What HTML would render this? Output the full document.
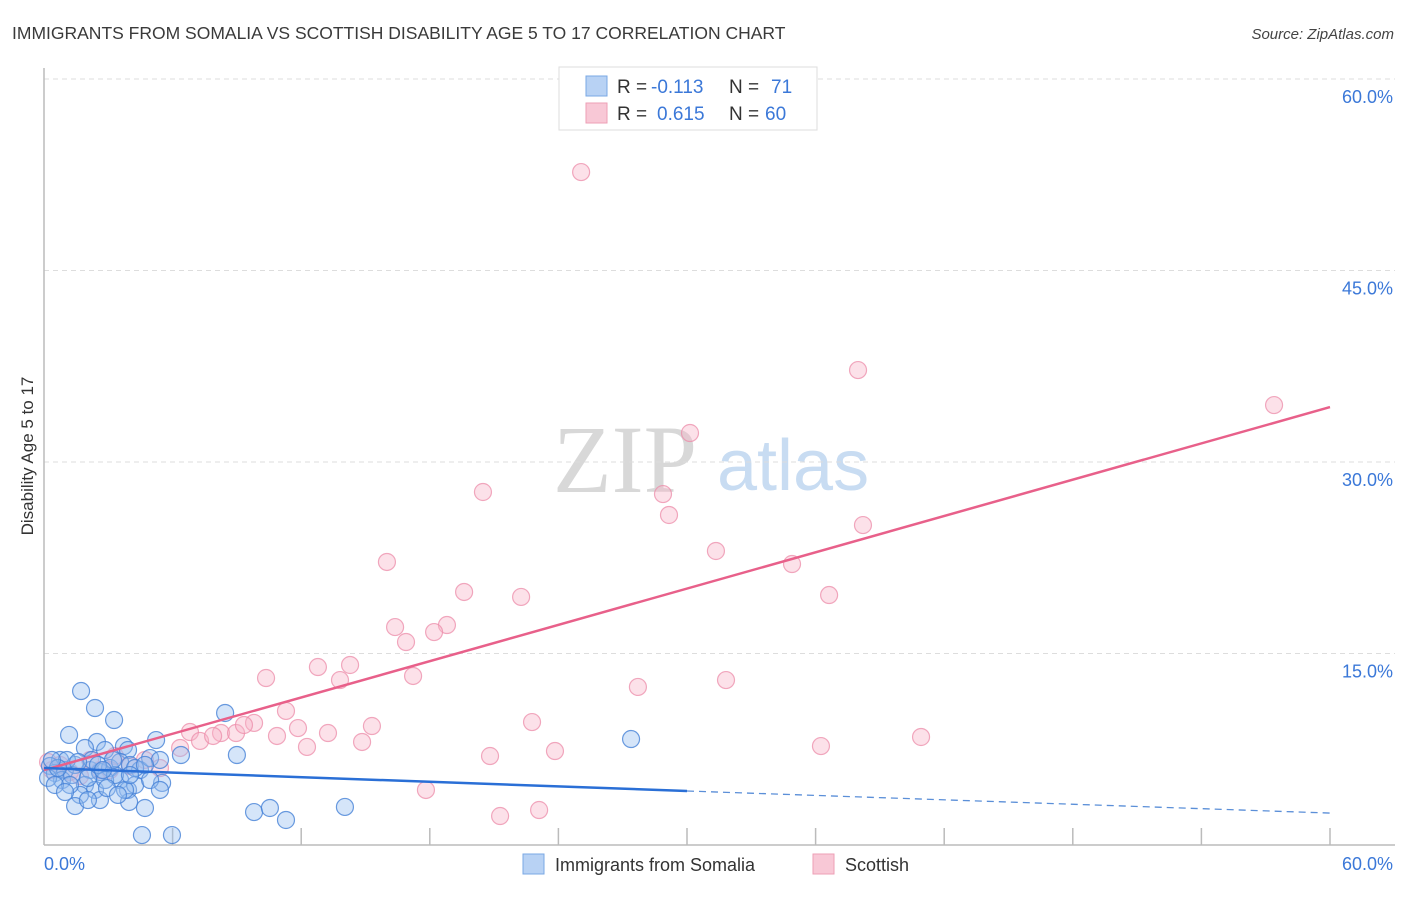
<!DOCTYPE html>
<html><head><meta charset="utf-8">
<style>
body{margin:0;background:#fff;font-family:"Liberation Sans",sans-serif;}
</style></head>
<body>
<svg id="chart" width="1406" height="892" xmlns="http://www.w3.org/2000/svg" font-family="Liberation Sans, sans-serif">
<text x="12" y="39" font-size="17.5" fill="#3a3a3a">IMMIGRANTS FROM SOMALIA VS SCOTTISH DISABILITY AGE 5 TO 17 CORRELATION CHART</text>
<text x="1394" y="39" font-size="15" fill="#444" text-anchor="end" font-style="italic">Source: ZipAtlas.com</text>
<g>
<text x="553" y="492" font-size="96" fill="#d8d8d8" style="font-family:'Liberation Serif',serif">ZIP</text>
<text x="717" y="490" font-size="72" fill="#c8dcf2">atlas</text>
</g>
<g id="grid"></g>
<line x1="44" y1="68" x2="44" y2="845" stroke="#bbb" stroke-width="1.5"/>
<line x1="44" y1="845" x2="1395" y2="845" stroke="#bbb" stroke-width="1.5"/>
<text transform="translate(33,456) rotate(-90)" font-size="17" fill="#333" text-anchor="middle">Disability Age 5 to 17</text>
<text x="44" y="870" font-size="18" fill="#3b78d8">0.0%</text>
<text x="1393" y="870" font-size="18" fill="#3b78d8" text-anchor="end">60.0%</text>
<g id="points"></g>
<g id="lines"></g>
<g>
<rect x="559" y="67" width="258" height="63" fill="#fff" stroke="#ddd"/>
<rect x="586" y="76" width="21" height="20" fill="#b8d2f4" stroke="#7aa8e4"/>
<rect x="586" y="103" width="21" height="20" fill="#f8c8d6" stroke="#ee9fb6"/>
<text x="617" y="93" font-size="19" fill="#333">R =</text>
<text x="651" y="93" font-size="19" fill="#3b78d8">-0.113</text>
<text x="729" y="93" font-size="19" fill="#333">N =</text>
<text x="771" y="93" font-size="19" fill="#3b78d8">71</text>
<text x="617" y="120" font-size="19" fill="#333">R =</text>
<text x="657" y="120" font-size="19" fill="#3b78d8">0.615</text>
<text x="729" y="120" font-size="19" fill="#333">N =</text>
<text x="765" y="120" font-size="19" fill="#3b78d8">60</text>
</g>
<g>
<rect x="523" y="854" width="21" height="20" fill="#b8d2f4" stroke="#7aa8e4"/>
<text x="555" y="871" font-size="18" fill="#333">Immigrants from Somalia</text>
<rect x="813" y="854" width="21" height="20" fill="#f8c8d6" stroke="#ee9fb6"/>
<text x="845" y="871" font-size="18" fill="#333">Scottish</text>
</g>
</svg>
<script>
const yTicks=[15,30,45,60];
const yTickLabels=["15.0%","30.0%","45.0%","60.0%"];
const xTicks=[6,12,18,24,30,36,42,48,54,60];
const scottishX=[25.06,37.98,57.39,30.14,20.48,28.88,29.16,38.21,31.35,16.00,34.90,19.60,22.26,36.63,18.80,16.38,16.89,18.20,14.28,12.78,10.36,13.81,17.22,31.82,27.71,22.77,15.30,11.29,9.80,6.81,8.26,8.96,9.33,10.87,11.85,13.25,12.27,14.84,23.84,20.81,36.25,40.92,6.35,7.28,7.89,17.82,21.28,23.10,5.41,4.71,4.01,3.31,2.61,2.15,1.21,0.75,0.37,0.19,1.68,3.08];
const scottishY=[52.71,37.20,34.46,32.27,27.65,27.49,25.85,25.06,23.03,22.17,22.01,19.82,19.43,19.58,17.23,17.07,15.90,16.68,14.10,13.94,13.08,12.92,13.24,12.92,12.38,9.63,9.32,10.50,9.56,8.85,8.77,8.77,9.40,8.54,9.16,8.77,7.68,8.07,7.36,6.97,7.75,8.46,7.60,8.15,8.54,4.31,2.27,2.74,6.03,6.66,6.19,6.97,5.87,6.66,5.72,6.27,5.87,6.50,5.40,5.87];
const somaliaX=[1.73,2.38,3.27,1.17,8.45,5.23,27.39,9.00,6.39,2.47,3.73,3.92,2.85,1.91,0.75,0.28,0.51,0.98,1.45,2.15,2.61,3.08,3.55,4.01,4.48,4.95,5.41,0.84,1.31,0.19,3.55,3.92,4.25,1.91,2.38,2.85,1.68,5.51,2.61,1.45,3.97,4.71,9.80,10.54,11.29,14.04,4.57,5.97,3.31,1.07,2.05,0.65,0.37,3.78,3.22,4.25,4.71,2.24,1.21,1.59,2.52,2.94,3.45,0.51,0.98,2.05,2.75,4.01,4.95,5.41];
const somaliaY=[12.06,10.73,9.79,8.62,10.34,8.22,8.30,7.05,7.05,8.07,7.75,7.44,7.44,7.60,6.66,6.19,5.64,5.87,6.27,5.87,5.72,6.03,6.50,6.27,5.87,6.81,6.66,5.09,5.48,5.25,5.09,4.31,4.70,4.70,4.31,5.09,3.92,4.86,3.52,3.05,3.37,2.90,2.58,2.90,1.96,2.98,0.78,0.78,5.48,6.66,5.25,6.03,6.66,4.31,6.66,6.03,6.27,6.66,4.70,6.50,6.27,4.46,3.92,4.70,4.15,3.52,5.87,5.48,5.09,4.31];
const scottishTrend=[[0,5.87],[60,34.3]];
const somaliaTrendSolid=[[0,6.03],[30,4.23]];
const somaliaTrendDashed=[[30,4.23],[60,2.5]];
const NS="http://www.w3.org/2000/svg";
const xs=v=>44+v*(1286/60);
const ys=v=>845-v*(766/60);
function mk(t,a,p){const e=document.createElementNS(NS,t);for(const k in a)e.setAttribute(k,a[k]);p.appendChild(e);return e;}
const grid=document.getElementById('grid');
yTicks.forEach((t,i)=>{
 const l=mk('line',{x1:44,x2:1395,y1:ys(t),y2:ys(t),stroke:'#ddd','stroke-dasharray':'5,4'},grid);
 
 
 const tx=mk('text',{x:1393,y:ys(t)+24,'font-size':18,fill:'#3b78d8','text-anchor':'end'},grid);
 tx.textContent=yTickLabels[i];
 
 
});
xTicks.forEach(t=>{
 const l=mk('line',{x1:xs(t),x2:xs(t),y1:828,y2:845,stroke:'#bbb','stroke-width':1.5},grid);
 
 
});
const pts=document.getElementById('points');
scottishX.forEach((x,i)=>{
 const c=mk('circle',{cx:xs(x),cy:ys(scottishY[i]),r:8.5,fill:'rgba(248,180,200,0.4)',stroke:'rgba(236,140,170,0.75)','stroke-width':1.2},pts);
 
 
});
somaliaX.forEach((x,i)=>{
 const c=mk('circle',{cx:xs(x),cy:ys(somaliaY[i]),r:8.5,fill:'rgba(150,190,240,0.4)',stroke:'rgba(70,130,215,0.8)','stroke-width':1.2},pts);
 
 
});
const lines=document.getElementById('lines');
let l1=mk('line',{x1:xs(scottishTrend[0][0]),y1:ys(scottishTrend[0][1]),x2:xs(scottishTrend[1][0]),y2:ys(scottishTrend[1][1]),stroke:'#e8608a','stroke-width':2.5},lines);


let l2=mk('line',{x1:xs(somaliaTrendSolid[0][0]),y1:ys(somaliaTrendSolid[0][1]),x2:xs(somaliaTrendSolid[1][0]),y2:ys(somaliaTrendSolid[1][1]),stroke:'#2a6fd6','stroke-width':2.5},lines);


let l3=mk('line',{x1:xs(somaliaTrendDashed[0][0]),y1:ys(somaliaTrendDashed[0][1]),x2:xs(somaliaTrendDashed[1][0]),y2:ys(somaliaTrendDashed[1][1]),stroke:'#5b8fd8','stroke-width':1.3,'stroke-dasharray':'7,5'},lines);


</script>
</body></html>
